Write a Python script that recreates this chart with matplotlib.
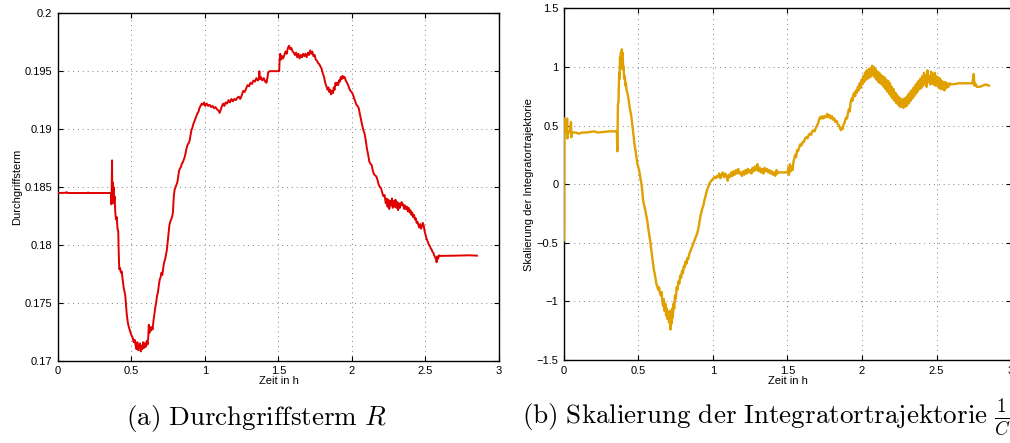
import numpy as np
import matplotlib
matplotlib.use('Agg')
import matplotlib.pyplot as plt

plt.rcParams['font.family'] = ['Liberation Sans', 'DejaVu Sans']
plt.rcParams['mathtext.fontset'] = 'cm'

punkte_a = [
    (0.000, 0.18448), (0.050, 0.18450), (0.060, 0.18455), (0.065, 0.18448), (0.200, 0.18448),
    (0.205, 0.18452), (0.210, 0.18448), (0.362, 0.18448), (0.364, 0.18350), (0.366, 0.18560),
    (0.368, 0.18730), (0.370, 0.18380), (0.372, 0.18540), (0.375, 0.18400), (0.378, 0.18500),
    (0.381, 0.18360), (0.385, 0.18420), (0.390, 0.18280), (0.395, 0.18220), (0.400, 0.18240),
    (0.405, 0.18140), (0.410, 0.18120), (0.413, 0.17950), (0.417, 0.17790), (0.422, 0.17800),
    (0.428, 0.17760), (0.434, 0.17770), (0.440, 0.17700), (0.446, 0.17640), (0.452, 0.17600),
    (0.458, 0.17560), (0.463, 0.17480), (0.468, 0.17400), (0.474, 0.17340), (0.480, 0.17300),
    (0.487, 0.17270), (0.494, 0.17240), (0.500, 0.17220), (0.508, 0.17200), (0.515, 0.17160),
    (0.522, 0.17180), (0.528, 0.17130), (0.534, 0.17100), (0.540, 0.17160), (0.546, 0.17090),
    (0.552, 0.17120), (0.558, 0.17150), (0.563, 0.17080), (0.568, 0.17130), (0.574, 0.17100),
    (0.580, 0.17160), (0.586, 0.17110), (0.592, 0.17150), (0.598, 0.17120), (0.604, 0.17170),
    (0.610, 0.17140), (0.614, 0.17200), (0.618, 0.17310), (0.622, 0.17240), (0.627, 0.17290),
    (0.632, 0.17260), (0.638, 0.17290), (0.644, 0.17270), (0.650, 0.17350), (0.656, 0.17400),
    (0.662, 0.17460), (0.668, 0.17500), (0.674, 0.17560), (0.680, 0.17590), (0.686, 0.17650),
    (0.692, 0.17700), (0.698, 0.17720), (0.704, 0.17760), (0.710, 0.17740), (0.716, 0.17800),
    (0.722, 0.17850), (0.728, 0.17870), (0.734, 0.17910), (0.740, 0.17950), (0.746, 0.18020),
    (0.752, 0.18100), (0.758, 0.18170), (0.764, 0.18200), (0.770, 0.18220), (0.776, 0.18240),
    (0.782, 0.18280), (0.788, 0.18420), (0.794, 0.18480), (0.800, 0.18500), (0.806, 0.18520),
    (0.812, 0.18540), (0.818, 0.18590), (0.824, 0.18640), (0.830, 0.18660), (0.836, 0.18670),
    (0.842, 0.18700), (0.848, 0.18710), (0.854, 0.18730), (0.860, 0.18750), (0.866, 0.18780),
    (0.872, 0.18820), (0.878, 0.18850), (0.884, 0.18870), (0.890, 0.18880), (0.896, 0.18900),
    (0.902, 0.18950), (0.908, 0.18990), (0.914, 0.19010), (0.920, 0.19040), (0.926, 0.19060),
    (0.932, 0.19080), (0.938, 0.19100), (0.944, 0.19120), (0.950, 0.19140), (0.956, 0.19150),
    (0.962, 0.19180), (0.970, 0.19200), (0.978, 0.19220), (0.986, 0.19210), (0.994, 0.19230),
    (1.002, 0.19200), (1.012, 0.19220), (1.022, 0.19200), (1.032, 0.19210), (1.042, 0.19190),
    (1.052, 0.19200), (1.062, 0.19180), (1.072, 0.19190), (1.082, 0.19170), (1.092, 0.19160),
    (1.100, 0.19140), (1.108, 0.19170), (1.116, 0.19200), (1.124, 0.19220), (1.132, 0.19200),
    (1.140, 0.19230), (1.150, 0.19220), (1.160, 0.19250), (1.170, 0.19230), (1.180, 0.19260),
    (1.190, 0.19240), (1.200, 0.19260), (1.210, 0.19250), (1.220, 0.19270), (1.230, 0.19280),
    (1.240, 0.19260), (1.250, 0.19290), (1.260, 0.19330), (1.270, 0.19320), (1.280, 0.19350),
    (1.290, 0.19380), (1.300, 0.19370), (1.310, 0.19400), (1.320, 0.19390), (1.330, 0.19420),
    (1.340, 0.19410), (1.350, 0.19440), (1.360, 0.19420), (1.368, 0.19440), (1.370, 0.19500),
    (1.372, 0.19430), (1.380, 0.19450), (1.390, 0.19420), (1.400, 0.19440), (1.410, 0.19410),
    (1.418, 0.19400), (1.425, 0.19440), (1.430, 0.19490), (1.440, 0.19500), (1.470, 0.19500),
    (1.505, 0.19500), (1.508, 0.19600), (1.512, 0.19650), (1.518, 0.19600), (1.525, 0.19630),
    (1.532, 0.19610), (1.540, 0.19640), (1.548, 0.19670), (1.556, 0.19650), (1.564, 0.19700),
    (1.572, 0.19720), (1.580, 0.19690), (1.588, 0.19700), (1.596, 0.19670), (1.604, 0.19660),
    (1.612, 0.19640), (1.620, 0.19660), (1.628, 0.19620), (1.636, 0.19650), (1.644, 0.19610),
    (1.652, 0.19640), (1.660, 0.19620), (1.668, 0.19650), (1.676, 0.19630), (1.684, 0.19650),
    (1.692, 0.19620), (1.700, 0.19660), (1.708, 0.19640), (1.716, 0.19680), (1.724, 0.19650),
    (1.730, 0.19670), (1.738, 0.19630), (1.746, 0.19640), (1.754, 0.19600), (1.762, 0.19590),
    (1.770, 0.19570), (1.778, 0.19560), (1.786, 0.19540), (1.794, 0.19520), (1.802, 0.19480),
    (1.810, 0.19450), (1.818, 0.19400), (1.826, 0.19370), (1.834, 0.19340), (1.840, 0.19360),
    (1.846, 0.19320), (1.852, 0.19340), (1.858, 0.19300), (1.864, 0.19330), (1.870, 0.19310),
    (1.876, 0.19360), (1.882, 0.19340), (1.888, 0.19400), (1.894, 0.19380), (1.900, 0.19400),
    (1.906, 0.19380), (1.912, 0.19420), (1.918, 0.19410), (1.924, 0.19450), (1.930, 0.19430),
    (1.936, 0.19460), (1.942, 0.19440), (1.950, 0.19450), (1.958, 0.19420), (1.966, 0.19400),
    (1.974, 0.19380), (1.982, 0.19350), (1.990, 0.19330), (1.998, 0.19320), (2.006, 0.19300),
    (2.014, 0.19270), (2.022, 0.19240), (2.030, 0.19210), (2.038, 0.19200), (2.046, 0.19180),
    (2.054, 0.19130), (2.062, 0.19080), (2.070, 0.19030), (2.078, 0.18990), (2.086, 0.18960),
    (2.094, 0.18900), (2.102, 0.18830), (2.110, 0.18780), (2.118, 0.18720), (2.126, 0.18700),
    (2.134, 0.18690), (2.142, 0.18640), (2.150, 0.18610), (2.158, 0.18600), (2.166, 0.18590),
    (2.174, 0.18560), (2.182, 0.18520), (2.190, 0.18500), (2.198, 0.18490), (2.206, 0.18450),
    (2.214, 0.18420), (2.222, 0.18430), (2.230, 0.18360), (2.236, 0.18400), (2.242, 0.18330),
    (2.248, 0.18390), (2.254, 0.18310), (2.260, 0.18380), (2.266, 0.18340), (2.272, 0.18400),
    (2.278, 0.18320), (2.284, 0.18380), (2.290, 0.18330), (2.296, 0.18390), (2.302, 0.18320),
    (2.308, 0.18370), (2.314, 0.18300), (2.320, 0.18360), (2.326, 0.18320), (2.332, 0.18350),
    (2.338, 0.18370), (2.344, 0.18340), (2.350, 0.18350), (2.356, 0.18310), (2.362, 0.18340),
    (2.368, 0.18310), (2.374, 0.18330), (2.380, 0.18290), (2.386, 0.18320), (2.392, 0.18280),
    (2.398, 0.18300), (2.404, 0.18260), (2.410, 0.18280), (2.416, 0.18240), (2.422, 0.18260),
    (2.428, 0.18220), (2.434, 0.18230), (2.440, 0.18190), (2.446, 0.18200), (2.452, 0.18170),
    (2.458, 0.18150), (2.464, 0.18180), (2.470, 0.18140), (2.476, 0.18160), (2.482, 0.18190),
    (2.488, 0.18170), (2.494, 0.18120), (2.500, 0.18090), (2.506, 0.18060), (2.512, 0.18040),
    (2.518, 0.18020), (2.524, 0.18000), (2.530, 0.17990), (2.536, 0.17970), (2.542, 0.17960),
    (2.548, 0.17940), (2.554, 0.17930), (2.560, 0.17910), (2.566, 0.17890), (2.572, 0.17880),
    (2.576, 0.17850), (2.580, 0.17900), (2.586, 0.17880), (2.592, 0.17910), (2.600, 0.17905),
    (2.700, 0.17907), (2.800, 0.17910), (2.850, 0.17907),
]

punkte_b = [
    (0.000, -0.48), (0.002, 0.56), (0.004, 0.46), (0.010, 0.44), (0.018, 0.45), (0.021, 0.56),
    (0.023, 0.39), (0.026, 0.45), (0.040, 0.44), (0.047, 0.53), (0.049, 0.40), (0.052, 0.44),
    (0.080, 0.44), (0.100, 0.43), (0.120, 0.44), (0.150, 0.44), (0.200, 0.45), (0.230, 0.44),
    (0.300, 0.45), (0.355, 0.45), (0.358, 0.28), (0.360, 0.45), (0.362, 0.68), (0.366, 0.70),
    (0.370, 0.95), (0.373, 0.90), (0.376, 1.08), (0.379, 0.98), (0.382, 1.12), (0.385, 1.00),
    (0.388, 1.15), (0.391, 1.05), (0.394, 1.12), (0.397, 0.98), (0.400, 1.00), (0.404, 0.90),
    (0.408, 0.92), (0.412, 0.84), (0.416, 0.86), (0.420, 0.80), (0.425, 0.78), (0.430, 0.75),
    (0.435, 0.71), (0.440, 0.66), (0.446, 0.62), (0.452, 0.58), (0.457, 0.52), (0.462, 0.47),
    (0.468, 0.40), (0.474, 0.33), (0.480, 0.29), (0.486, 0.23), (0.493, 0.17), (0.500, 0.14),
    (0.507, 0.10), (0.513, 0.05), (0.520, 0.00), (0.525, -0.05), (0.530, -0.13), (0.536, -0.17),
    (0.542, -0.20), (0.548, -0.24), (0.554, -0.28), (0.560, -0.32), (0.566, -0.38), (0.572, -0.43),
    (0.578, -0.48), (0.584, -0.54), (0.590, -0.60), (0.596, -0.66), (0.602, -0.72), (0.608, -0.76),
    (0.614, -0.80), (0.620, -0.85), (0.626, -0.87), (0.632, -0.90), (0.638, -0.88), (0.644, -0.93),
    (0.650, -0.95), (0.655, -0.92), (0.660, -1.00), (0.665, -1.04), (0.670, -0.98), (0.675, -1.08),
    (0.680, -1.02), (0.685, -1.12), (0.690, -1.06), (0.695, -1.15), (0.700, -1.10), (0.705, -1.18),
    (0.710, -1.08), (0.714, -1.24), (0.718, -1.12), (0.722, -1.19), (0.726, -1.06), (0.730, -1.14),
    (0.735, -1.02), (0.740, -1.06), (0.745, -0.95), (0.750, -0.98), (0.756, -0.88), (0.762, -0.90),
    (0.768, -0.83), (0.774, -0.85), (0.780, -0.78), (0.786, -0.80), (0.792, -0.74), (0.798, -0.76),
    (0.804, -0.70), (0.810, -0.71), (0.816, -0.66), (0.822, -0.68), (0.828, -0.63), (0.834, -0.64),
    (0.840, -0.60), (0.846, -0.58), (0.852, -0.56), (0.858, -0.54), (0.864, -0.52), (0.870, -0.50),
    (0.876, -0.48), (0.882, -0.46), (0.888, -0.44), (0.894, -0.42), (0.900, -0.39), (0.906, -0.35),
    (0.912, -0.30), (0.918, -0.26), (0.924, -0.23), (0.930, -0.20), (0.936, -0.18), (0.942, -0.14),
    (0.948, -0.11), (0.954, -0.08), (0.960, -0.05), (0.966, -0.03), (0.972, -0.01), (0.978, 0.01),
    (0.984, 0.02), (0.990, 0.03), (0.996, 0.04), (1.002, 0.05), (1.010, 0.06), (1.018, 0.05),
    (1.026, 0.07), (1.034, 0.06), (1.042, 0.09), (1.050, 0.05), (1.058, 0.08), (1.066, 0.10),
    (1.074, 0.06), (1.082, 0.09), (1.090, 0.07), (1.098, 0.03), (1.106, 0.08), (1.114, 0.06),
    (1.122, 0.10), (1.130, 0.07), (1.138, 0.11), (1.146, 0.08), (1.154, 0.12), (1.162, 0.09),
    (1.170, 0.13), (1.178, 0.09), (1.186, 0.10), (1.194, 0.07), (1.202, 0.11), (1.210, 0.08),
    (1.218, 0.12), (1.226, 0.09), (1.234, 0.13), (1.242, 0.10), (1.250, 0.12), (1.258, 0.09),
    (1.266, 0.14), (1.274, 0.11), (1.282, 0.15), (1.290, 0.12), (1.298, 0.17), (1.306, 0.11),
    (1.314, 0.14), (1.322, 0.10), (1.330, 0.13), (1.338, 0.09), (1.346, 0.14), (1.354, 0.11),
    (1.362, 0.13), (1.370, 0.10), (1.378, 0.12), (1.386, 0.09), (1.394, 0.11), (1.402, 0.08),
    (1.410, 0.10), (1.418, 0.07), (1.426, 0.12), (1.434, 0.09), (1.442, 0.10), (1.460, 0.10),
    (1.480, 0.10), (1.500, 0.10), (1.505, 0.14), (1.510, 0.08), (1.516, 0.17), (1.522, 0.11),
    (1.528, 0.15), (1.534, 0.12), (1.540, 0.19), (1.546, 0.22), (1.552, 0.25), (1.558, 0.23),
    (1.564, 0.29), (1.570, 0.28), (1.578, 0.31), (1.586, 0.34), (1.594, 0.33), (1.602, 0.36),
    (1.610, 0.36), (1.618, 0.39), (1.626, 0.40), (1.634, 0.39), (1.642, 0.42), (1.650, 0.43),
    (1.658, 0.42), (1.666, 0.45), (1.674, 0.46), (1.682, 0.45), (1.690, 0.48), (1.698, 0.50),
    (1.706, 0.52), (1.712, 0.55), (1.718, 0.57), (1.726, 0.56), (1.734, 0.58), (1.742, 0.56),
    (1.750, 0.58), (1.758, 0.57), (1.766, 0.60), (1.774, 0.57), (1.782, 0.59), (1.790, 0.56),
    (1.798, 0.58), (1.806, 0.55), (1.814, 0.56), (1.822, 0.53), (1.830, 0.54), (1.838, 0.51),
    (1.846, 0.50), (1.852, 0.48), (1.858, 0.46), (1.864, 0.48), (1.870, 0.47), (1.876, 0.51),
    (1.882, 0.52), (1.888, 0.55), (1.894, 0.57), (1.900, 0.56), (1.906, 0.61), (1.912, 0.64),
    (1.918, 0.62), (1.924, 0.70), (1.930, 0.73), (1.936, 0.71), (1.942, 0.76), (1.948, 0.78),
    (1.954, 0.75), (1.960, 0.80), (1.966, 0.78), (1.972, 0.83), (1.978, 0.80), (1.984, 0.86),
    (1.990, 0.82), (1.996, 0.89), (2.002, 0.85), (2.008, 0.92), (2.014, 0.87), (2.020, 0.95),
    (2.026, 0.89), (2.032, 0.97), (2.038, 0.90), (2.044, 0.98), (2.050, 0.91), (2.056, 0.99),
    (2.062, 0.92), (2.068, 1.01), (2.074, 0.93), (2.080, 1.00), (2.086, 0.91), (2.092, 0.98),
    (2.098, 0.89), (2.104, 0.96), (2.110, 0.87), (2.116, 0.95), (2.122, 0.86), (2.128, 0.93),
    (2.134, 0.85), (2.140, 0.92), (2.146, 0.83), (2.152, 0.91), (2.158, 0.81), (2.164, 0.89),
    (2.170, 0.79), (2.176, 0.88), (2.182, 0.77), (2.188, 0.86), (2.194, 0.75), (2.200, 0.83),
    (2.206, 0.73), (2.212, 0.81), (2.218, 0.71), (2.224, 0.78), (2.230, 0.69), (2.236, 0.76),
    (2.242, 0.68), (2.248, 0.74), (2.254, 0.66), (2.260, 0.73), (2.266, 0.66), (2.272, 0.72),
    (2.278, 0.65), (2.284, 0.73), (2.290, 0.66), (2.296, 0.74), (2.302, 0.67), (2.308, 0.76),
    (2.314, 0.69), (2.320, 0.78), (2.326, 0.71), (2.332, 0.80), (2.338, 0.73), (2.344, 0.82),
    (2.350, 0.75), (2.356, 0.84), (2.362, 0.77), (2.368, 0.86), (2.374, 0.79), (2.380, 0.88),
    (2.386, 0.81), (2.392, 0.90), (2.398, 0.82), (2.404, 0.92), (2.410, 0.84), (2.416, 0.95),
    (2.422, 0.86), (2.428, 0.93), (2.434, 0.83), (2.440, 0.97), (2.446, 0.87), (2.452, 0.92),
    (2.458, 0.85), (2.464, 0.96), (2.470, 0.86), (2.476, 0.94), (2.482, 0.85), (2.488, 0.95),
    (2.494, 0.84), (2.500, 0.92), (2.506, 0.84), (2.512, 0.91), (2.518, 0.82), (2.524, 0.90),
    (2.530, 0.81), (2.536, 0.88), (2.542, 0.81), (2.548, 0.87), (2.554, 0.80), (2.560, 0.87),
    (2.566, 0.82), (2.572, 0.86), (2.580, 0.83), (2.590, 0.86), (2.600, 0.85), (2.650, 0.86),
    (2.700, 0.86), (2.740, 0.86), (2.750, 0.94), (2.754, 0.84), (2.760, 0.86), (2.770, 0.83),
    (2.790, 0.83), (2.810, 0.84), (2.830, 0.85), (2.852, 0.84),
]

x_ticks = [0, 0.5, 1, 1.5, 2, 2.5, 3]
x_labels = ['0', '0.5', '1', '1.5', '2', '2.5', '3']
ya_ticks = [0.17, 0.175, 0.18, 0.185, 0.19, 0.195, 0.2]
ya_labels = ['0.17', '0.175', '0.18', '0.185', '0.19', '0.195', '0.2']
yb_ticks = [-1.5, -1, -0.5, 0, 0.5, 1, 1.5]
yb_labels = ['\u22121.5', '\u22121', '\u22120.5', '0', '0.5', '1', '1.5']


def style_axes(ax, yticks, ylabels, ylabel):
    ax.set_xlim(0, 3)
    ax.set_xticks(x_ticks)
    ax.set_xticklabels(x_labels)
    ax.set_yticks(yticks)
    ax.set_yticklabels(ylabels)
    ax.set_ylim(yticks[0], yticks[-1])
    ax.grid(True, color='#808080', linestyle=(0, (1, 4)), linewidth=0.7)
    ax.tick_params(direction='in', top=True, right=True, length=3.5, width=0.8,
                   labelsize=8, pad=4)
    for sp in ax.spines.values():
        sp.set_linewidth(1.0)
    ax.set_xlabel('Zeit in h', fontsize=8, labelpad=0)
    ax.set_ylabel(ylabel, fontsize=8, labelpad=2)


t_a, r_a = np.array(punkte_a).T
t_b, s_b = np.array(punkte_b).T

fig = plt.figure(figsize=(10.10, 4.43), dpi=100)

ax1 = fig.add_axes([0.0574, 0.1858, 0.4366, 0.7842])
ax1.plot(t_a, r_a, color='#e00000', linewidth=1.4, zorder=3)
style_axes(ax1, ya_ticks, ya_labels, 'Durchgriffsterm')

ax2 = fig.add_axes([0.5584, 0.1874, 0.4426, 0.7939])
ax2.plot(t_b, s_b, color='#e0a000', linewidth=1.7, zorder=3)
style_axes(ax2, yb_ticks, yb_labels, 'Skalierung der Integratortrajektorie')

# Bildunterschriften
fig.text(0.254, 0.055, r'$\mathrm{(a)\ Durchgriffsterm}\ R$', fontsize=19.5,
         ha='center', va='center')
fig.text(0.517, 0.055, r'$\mathrm{(b)\ Skalierung\ der\ Integratortrajektorie}\ \frac{1}{C}$',
         fontsize=19.5, ha='left', va='center')

fig.savefig('out.png', dpi=100)
